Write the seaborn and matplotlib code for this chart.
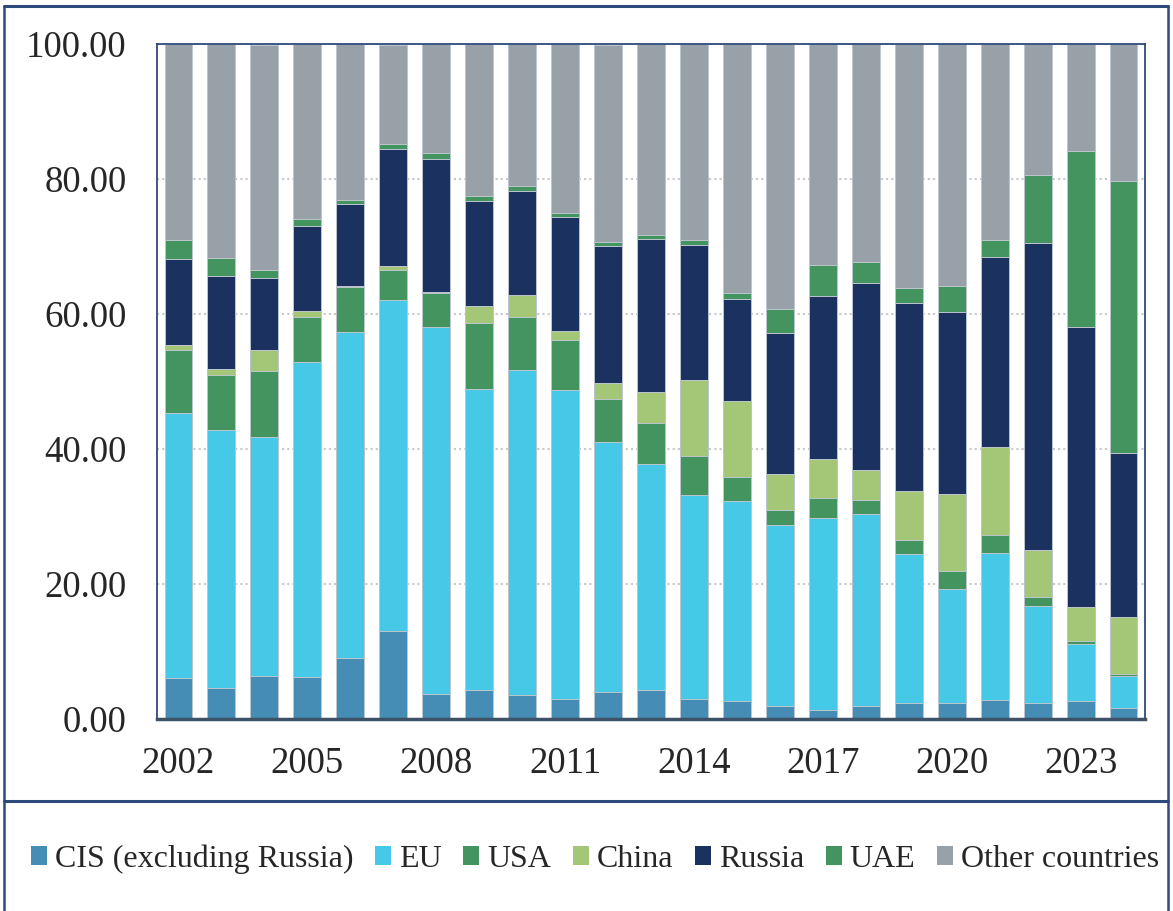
import matplotlib
matplotlib.use("Agg")
import matplotlib.pyplot as plt
from matplotlib.patches import Patch
from matplotlib.lines import Line2D
import numpy as np
import pandas as pd
import seaborn as sns

# ---------------- data ----------------
years = [str(y) for y in range(2002, 2025)]
cis = [6.1, 4.6, 6.4, 6.2, 9.1, 13.0, 3.75, 4.3, 3.5, 2.9, 4.0, 4.3, 3.0, 2.6, 1.9, 1.4, 2.0, 2.3, 2.3, 2.8, 2.4, 2.7, 1.6]
eu = [39.3, 38.2, 35.4, 46.7, 48.2, 49.1, 54.3, 44.6, 48.2, 45.8, 37.1, 33.5, 30.2, 29.7, 26.8, 28.45, 28.4, 22.15, 17.0, 21.75, 14.3, 8.35, 4.75]
usa = [9.2, 8.2, 9.7, 6.6, 6.7, 4.4, 5.0, 9.7, 7.9, 7.5, 6.3, 6.0, 5.8, 3.6, 2.2, 2.95, 2.0, 2.0, 2.6, 2.7, 1.35, 0.5, 0.35]
china = [0.8, 0.85, 3.1, 1.0, 0.1, 0.6, 0.15, 2.6, 3.2, 1.3, 2.4, 4.7, 11.15, 11.25, 5.4, 5.65, 4.5, 7.4, 11.45, 13.05, 6.95, 5.05, 8.45]
russia = [12.7, 13.8, 10.8, 12.5, 12.25, 17.4, 19.8, 15.55, 15.35, 16.8, 20.25, 22.65, 20.0, 15.1, 20.9, 24.15, 27.65, 27.85, 27.0, 28.1, 45.55, 41.5, 24.25]
uae = [2.9, 2.6, 1.1, 1.1, 0.55, 0.75, 0.9, 0.7, 0.75, 0.7, 0.65, 0.6, 0.8, 0.8, 3.55, 4.6, 3.1, 2.2, 3.8, 2.55, 10.05, 26.1, 40.25]
other = [29.0, 31.75, 33.4, 25.9, 23.2, 14.6, 16.1, 22.6, 21.1, 25.0, 29.2, 28.25, 29.1, 36.95, 39.2, 32.85, 32.4, 36.05, 35.85, 29.1, 19.35, 15.8, 20.4]

series_names = ["CIS (excluding Russia)", "EU", "USA", "China", "Russia", "UAE", "Other countries"]
series_values = [cis, eu, usa, china, russia, uae, other]
colors = ["#468DB6", "#45C9E6", "#43945E", "#A3C777", "#1B3160", "#43945E", "#98A0A8"]
y_ticks = [0, 20, 40, 60, 80, 100]
x_tick_years = years[::3]

# ---------------- style ----------------
sns.set_theme(style="white")
plt.rcParams["font.family"] = ["Liberation Serif", "DejaVu Serif"]

fig = plt.figure(figsize=(11.73, 9.11), dpi=100)
ax = fig.add_axes([157 / 1173, (911 - 719) / 911, (1145 - 157) / 1173, (719 - 44) / 911])

df = pd.DataFrame(dict(zip(series_names, series_values)), index=years)
cum = df.cumsum(axis=1)

# draw from the top layer down so lower layers overlay upper cumulative bars
for name, col in reversed(list(zip(series_names, colors))):
    sns.barplot(x=years, y=cum[name].values, color=col, saturation=1,
                width=0.65, edgecolor="#bcc6ce", linewidth=0.7, ax=ax, zorder=2)

ax.set_ylim(0, 100)
ax.set_xlim(-0.5, len(years) - 0.5)
ax.set_yticks(y_ticks)
ax.set_yticklabels([f"{v:.2f}" for v in y_ticks], fontsize=26.5)
ax.set_xticks([years.index(y) for y in x_tick_years])
ax.set_xticklabels(x_tick_years, fontsize=26.5)
ax.tick_params(axis="y", length=0, pad=22)
ax.tick_params(axis="x", length=0, pad=20)
ax.set_xlabel("")
ax.set_ylabel("")

ax.set_axisbelow(True)
ax.yaxis.grid(True, linestyle=(0, (1, 1.5)), color="#c8c8c8", linewidth=1.5)
ax.xaxis.grid(False)

for s in ["left", "top", "right"]:
    ax.spines[s].set_color("#2E4A7D")
    ax.spines[s].set_linewidth(1.3)
ax.spines["bottom"].set_color("#3D5266")
ax.spines["bottom"].set_linewidth(2.5)

# outer frame lines
frame_col = "#2E4A7D"
fig.add_artist(Line2D([0.0037, 0.9957], [1 - 5.7 / 911] * 2, color=frame_col, lw=2.2, transform=fig.transFigure))
fig.add_artist(Line2D([0.0037, 0.9957], [1 - 800.7 / 911] * 2, color=frame_col, lw=2.2, transform=fig.transFigure))
fig.add_artist(Line2D([0.0037, 0.0037], [0, 1 - 5.7 / 911], color=frame_col, lw=1.8, transform=fig.transFigure))
fig.add_artist(Line2D([0.9957, 0.9957], [0, 1 - 5.7 / 911], color=frame_col, lw=1.8, transform=fig.transFigure))

handles = [Patch(facecolor=c, edgecolor="none", label=n) for n, c in zip(series_names, colors)]
fig.legend(handles=handles, loc="center", bbox_to_anchor=(595 / 1173, 1 - 859 / 911),
           ncol=7, frameon=False, fontsize=23, handlelength=0.5, handleheight=0.5,
           handletextpad=0.25, columnspacing=0.68, borderaxespad=0, borderpad=0)

fig.savefig("out.png", dpi=100)
